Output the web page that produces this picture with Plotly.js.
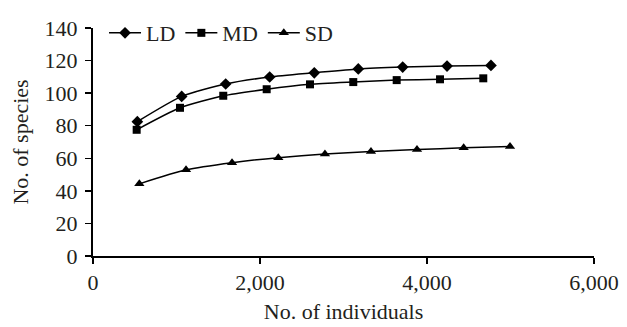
<!DOCTYPE html>
<html>
<head>
<meta charset="utf-8">
<script src="https://cdn.plot.ly/plotly-3.0.1.min.js"></script>
<style>html,body{margin:0;padding:0;background:#fff}#chart{width:627px;height:327px}</style>
</head>
<body>
<div id="chart"></div>
<script>
const ldX = [531, 1062, 1589, 2116, 2650, 3177, 3709, 4240, 4766];
const ldY = [82.5, 98, 105.6, 109.9, 112.5, 114.9, 116, 116.6, 117];
const mdX = [523, 1042, 1560, 2080, 2599, 3117, 3637, 4156, 4674];
const mdY = [77.5, 91, 98.4, 102.4, 105.4, 106.8, 108, 108.5, 109.1];
const sdX = [555, 1114, 1665, 2219, 2778, 3329, 3880, 4439, 4994];
const sdY = [44.3, 52.9, 57.3, 60.4, 62.6, 64.2, 65.4, 66.4, 67.2];
const xTicks = [0, 2000, 4000, 6000];
const xTickText = ['0', '2,000', '4,000', '6,000'];

const font = {family: 'Liberation Serif, Times New Roman, serif', size: 22, color: '#231f20'};
const line = {color: '#000', width: 1.5, shape: 'spline', smoothing: 0.6};

const traces = [
  {x: ldX, y: ldY, name: 'LD', mode: 'lines+markers', line: line,
   marker: {symbol: 'diamond', size: 9, color: '#000'}},
  {x: mdX, y: mdY, name: 'MD', mode: 'lines+markers', line: line,
   marker: {symbol: 'square', size: 8, color: '#000'}},
  {x: sdX, y: sdY, name: 'SD', mode: 'lines+markers', line: line,
   marker: {symbol: 'triangle-up', size: 9, color: '#000'}}
];

const layout = {
  width: 627, height: 327,
  margin: {l: 93, r: 33, t: 21, b: 71},
  paper_bgcolor: '#fff', plot_bgcolor: '#fff',
  font: font,
  showlegend: true,
  legend: {orientation: 'h', x: 0.022, y: 1.07, xanchor: 'left', yanchor: 'top',
           font: font, bgcolor: 'rgba(0,0,0,0)', itemwidth: 32, tracegroupgap: 0},
  xaxis: {
    range: [0, 6000], tickvals: xTicks, ticktext: xTickText,
    showgrid: false, zeroline: false, showline: true, linecolor: '#000', linewidth: 2,
    ticks: 'outside', ticklen: 6, tickcolor: '#000', tickwidth: 1.5,
    title: {text: 'No. of individuals', font: font, standoff: 9}
  },
  yaxis: {
    range: [0, 140], dtick: 20,
    showgrid: false, zeroline: false, showline: true, linecolor: '#000', linewidth: 2,
    ticks: 'outside', ticklen: 6, tickcolor: '#000', tickwidth: 1.5,
    ticklabelstandoff: 3,
    title: {text: 'No. of species', font: font, standoff: 10}
  }
};

Plotly.newPlot('chart', traces, layout, {displayModeBar: false, staticPlot: true});
</script>
</body>
</html>
